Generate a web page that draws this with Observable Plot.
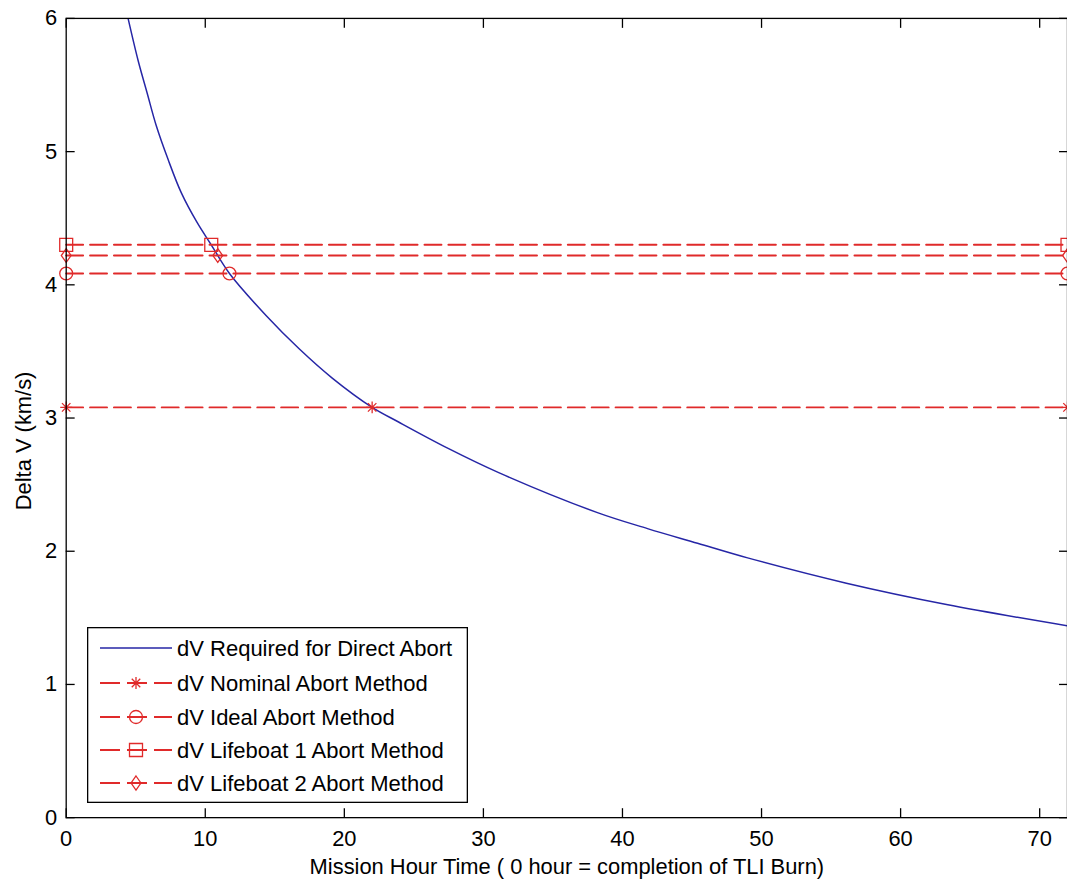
<!DOCTYPE html>
<html><head><meta charset="utf-8">
<script src="https://cdn.jsdelivr.net/npm/d3@7"></script>
<script src="https://cdn.jsdelivr.net/npm/@observablehq/plot@0.6"></script>
<style>
html,body{margin:0;padding:0;background:#fff;overflow:hidden;}
#wrap{position:relative;width:1067px;height:888px;overflow:hidden;}
#legend{position:absolute;left:87px;top:627px;}
</style></head><body><div id="wrap"></div>
<script>
// ---- data ----
const hours = [4.45, 5.18, 5.82, 6.49, 7.33, 8.28, 9.40, 10.43, 11.74, 14.37, 16.75, 19.13, 22.0, 23.9, 27.5, 31.1, 38.2, 41.8, 45.4, 49.0, 56.1, 63.3, 72];
const dvDirect = [6.0, 5.68, 5.44, 5.19, 4.94, 4.69, 4.47, 4.30, 4.085, 3.77, 3.52, 3.30, 3.08, 2.97, 2.77, 2.59, 2.29, 2.17, 2.06, 1.95, 1.76, 1.60, 1.44];
const directName = "dV Required for Direct Abort";
const methodNames = ["dV Nominal Abort Method", "dV Ideal Abort Method", "dV Lifeboat 1 Abort Method", "dV Lifeboat 2 Abort Method"];
const methodDv = [3.08, 4.085, 4.30, 4.22];
const methodCross = [22.0, 11.74, 10.43, 10.9];
const methodStart = 0;
const xDomain = [0, 72];
const yDomain = [0, 6];
const xTicks = [0, 10, 20, 30, 40, 50, 60, 70];
const yTicks = [0, 1, 2, 3, 4, 5, 6];
const xLabel = "Mission Hour Time ( 0 hour = completion of TLI Burn)";
const yLabel = "Delta V (km/s)";

// ---- styling ----
const BLUE = "#2626a6";
const RED = "#e02a2a";
const FONT = "'Liberation Sans', Arial, sans-serif";

// MATLAB-like marker shapes
const starSym = {draw(ctx, size){ const r = Math.sqrt(size/Math.PI), d = r*Math.SQRT1_2;
  ctx.moveTo(-r,0); ctx.lineTo(r,0); ctx.moveTo(0,-r); ctx.lineTo(0,r);
  ctx.moveTo(-d,-d); ctx.lineTo(d,d); ctx.moveTo(-d,d); ctx.lineTo(d,-d); }};
const circleSym = {draw(ctx, size){ const r = Math.sqrt(size/Math.PI);
  ctx.moveTo(r,0); ctx.arc(0,0,r,0,2*Math.PI); }};
const squareSym = {draw(ctx, size){ const r = Math.sqrt(size/Math.PI);
  ctx.rect(-r,-r,2*r,2*r); }};
const diamondSym = {draw(ctx, size){ const r = Math.sqrt(size/Math.PI), w = r*0.7;
  ctx.moveTo(0,-r); ctx.lineTo(w,0); ctx.lineTo(0,r); ctx.lineTo(-w,0); ctx.closePath(); }};
const methodSyms = [starSym, circleSym, squareSym, diamondSym];
const methodR = [6, 6.5, 6.5, 7];

const curve = hours.map((t, i) => ({t, v: dvDirect[i]}));
const methods = methodNames.map((name, i) => ({
  name, sym: methodSyms[i], r: methodR[i],
  rows: [methodStart, methodCross[i], xDomain[1]].map(t => ({t, v: methodDv[i]}))
}));

const methodMarks = methods.flatMap(m => [
  Plot.line(m.rows, {x: "t", y: "v", stroke: RED, strokeWidth: 2, strokeDasharray: "17,7"}),
  Plot.dot(m.rows, {x: "t", y: "v", symbol: m.sym, r: m.r, stroke: RED, fill: "none", strokeWidth: 1.3})
]);

const chart = Plot.plot({
  width: 1072, height: 888,
  marginLeft: 66, marginRight: 0, marginTop: 18, marginBottom: 67,
  style: {fontFamily: FONT, fontSize: "22px", color: "#000", background: "#fff"},
  x: {domain: xDomain, ticks: xTicks},
  y: {domain: yDomain, ticks: yTicks},
  marks: [
    Plot.line(curve, {x: "t", y: "v", stroke: BLUE, strokeWidth: 1.5, curve: "catmull-rom", clip: true}),
    ...methodMarks,
    Plot.frame({stroke: "#000", strokeWidth: 1.3}),
    Plot.axisX({ticks: xTicks, tickSize: 0, tickPadding: 13, tickFormat: d3.format("d"), label: null}),
    Plot.axisX({ticks: xTicks, tickSize: -9, fill: "none", label: null, strokeWidth: 1.3}),
    Plot.axisX({anchor: "top", ticks: xTicks, tickSize: -9, fill: "none", label: null, strokeWidth: 1.3}),
    Plot.axisY({ticks: yTicks, tickSize: 0, tickPadding: 9, tickFormat: d3.format("d"), label: null}),
    Plot.axisY({ticks: yTicks, tickSize: -9, fill: "none", label: null, strokeWidth: 1.3}),
    Plot.axisY({anchor: "right", ticks: yTicks, tickSize: -9, fill: "none", label: null, strokeWidth: 1.3}),
    Plot.text([xLabel], {frameAnchor: "bottom", dy: 50, textAnchor: "middle", lineAnchor: "middle"}),
    Plot.text([yLabel], {frameAnchor: "left", rotate: -90, dx: -42, dy: 23, textAnchor: "middle", lineAnchor: "middle"})
  ]
});
document.getElementById("wrap").appendChild(chart);

// ---- legend (inside the axes, lower left) ----
const LW = 381, LH = 176;
const legendDiv = document.createElement("div");
legendDiv.id = "legend";
document.getElementById("wrap").appendChild(legendDiv);
const svg = d3.select(legendDiv).append("svg").attr("width", LW).attr("height", LH)
  .style("font-family", FONT).style("font-size", "22px").style("display", "block");
svg.append("rect").attr("x", 0.65).attr("y", 0.65).attr("width", LW - 1.3).attr("height", LH - 1.3)
  .attr("fill", "#fff").attr("stroke", "#000").attr("stroke-width", 1.3);
const rowY = [21, 56, 90, 123, 156];
const entries = [{name: directName, color: BLUE, dash: null, sym: null, r: 0, w: 1.5}]
  .concat(methods.map(m => ({name: m.name, color: RED, dash: "20,7", sym: m.sym, r: m.r, w: 2})));
entries.forEach((e, i) => {
  const g = svg.append("g").attr("transform", `translate(0,${rowY[i]})`);
  g.append("line").attr("x1", 13).attr("x2", 85).attr("y1", 0).attr("y2", 0)
    .attr("stroke", e.color).attr("stroke-width", e.w).attr("stroke-dasharray", e.dash);
  if (e.sym) {
    const p = d3.path(); e.sym.draw(p, Math.PI * e.r * e.r);
    g.append("path").attr("d", p.toString()).attr("transform", "translate(49,0)")
      .attr("fill", "none").attr("stroke", RED).attr("stroke-width", 1.3);
  }
  g.append("text").attr("x", 90).attr("dy", "0.35em").text(e.name);
});
</script>
</body></html>
